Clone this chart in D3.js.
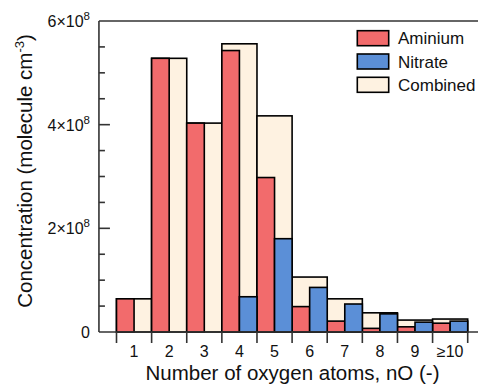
<!DOCTYPE html>
<html>
<head>
<meta charset="utf-8">
<script src="https://cdn.jsdelivr.net/npm/d3@7"></script>
<style>
  body { margin: 0; background: #fff; }
  svg { display: block; font-family: "Liberation Sans", Arial, sans-serif; }
</style>
</head>
<body>
<div id="chart"></div>
<script>
// categories = number of oxygen atoms
const categories = ["1", "2", "3", "4", "5", "6", "7", "8", "9", "\u226510"];
// concentrations in 1e8 molecule cm-3
const aminium  = [0.64, 5.28, 4.03, 5.43, 2.98, 0.49, 0.21, 0.07, 0.10, 0.17];
const nitrate  = [0, 0, 0, 0.68, 1.80, 0.86, 0.54, 0.35, 0.19, 0.21];
const combined = [0.64, 5.28, 4.03, 5.56, 4.17, 1.06, 0.64, 0.37, 0.23, 0.25];
const yTicks = [0, 2, 4, 6];
const legendItems = ["Aminium", "Nitrate", "Combined"];

const colors = { Aminium: "#f26b6c", Nitrate: "#5b8fd7", Combined: "#fef2e1" };

const W = 478, H = 384;
const svg = d3.select("#chart").append("svg").attr("width", W).attr("height", H);

// x: category index (1..10), boundaries at i +/- 0.5
const x = d3.scaleLinear().domain([0.5, 10.5]).range([116.5, 467.7]);
const y = d3.scaleLinear().domain([0, 6]).range([332, 21]);
const left = x(0);
const half = (x(1) - x(0)) / 2;

// bars: combined behind, full width; aminium left half; nitrate right half
const g = svg.append("g").attr("stroke", "#000").attr("stroke-width", 1.6);
g.selectAll(".comb").data(combined).enter().append("rect")
  .attr("x", (d, i) => x(i + 0.5))
  .attr("y", d => y(d))
  .attr("width", 2 * half)
  .attr("height", d => y(0) - y(d))
  .attr("fill", colors.Combined);
g.selectAll(".am").data(aminium).enter().append("rect")
  .attr("x", (d, i) => x(i + 0.5))
  .attr("y", d => y(d))
  .attr("width", half)
  .attr("height", d => y(0) - y(d))
  .attr("fill", colors.Aminium);
g.selectAll(".ni").data(nitrate.map((v, i) => ({ v, i })).filter(d => d.v > 0)).enter().append("rect")
  .attr("x", d => x(d.i + 1))
  .attr("y", d => y(d.v))
  .attr("width", half)
  .attr("height", d => y(0) - y(d.v))
  .attr("fill", colors.Nitrate);

// frame lines
const axisColor = "#333";
const ax = svg.append("g").attr("stroke", axisColor).attr("stroke-width", 1.6).attr("fill", "none");
ax.append("line").attr("x1", left).attr("x2", left).attr("y1", y(6)).attr("y2", y(0));
ax.append("line").attr("x1", left).attr("x2", W).attr("y1", y(6)).attr("y2", y(6));
ax.append("line").attr("x1", left).attr("x2", W).attr("y1", y(0)).attr("y2", y(0));

// y ticks, pointing inward
const minor = d3.range(0.5, 6, 0.5);
ax.selectAll(".yt").data(minor).enter().append("line")
  .attr("x1", left).attr("x2", d => left + (d % 2 === 0 ? 11 : 6))
  .attr("y1", d => y(d)).attr("y2", d => y(d));

// x ticks at category boundaries, pointing down
ax.selectAll(".xt").data(d3.range(0.5, 11, 1)).enter().append("line")
  .attr("x1", d => x(d)).attr("x2", d => x(d))
  .attr("y1", y(0)).attr("y2", y(0) + 11);

// y tick labels
const yl = svg.append("g").attr("font-size", 16).attr("fill", "#111").attr("text-anchor", "end");
yTicks.forEach(t => {
  const txt = yl.append("text").attr("x", 90).attr("y", y(t) + 6);
  if (t === 0) { txt.text("0"); return; }
  txt.append("tspan").text(t + "\u00d710");
  txt.append("tspan").attr("font-size", 11.5).attr("dy", -7).text("8");
});

// x tick labels
svg.append("g").attr("font-size", 16).attr("fill", "#111").attr("text-anchor", "middle")
  .selectAll("text").data(categories).enter().append("text")
  .attr("x", (d, i) => x(i + 1))
  .attr("y", 357)
  .text(d => d);

// axis titles
svg.append("text").attr("x", 292.5).attr("y", 380).attr("text-anchor", "middle")
  .attr("font-size", 20.5).attr("fill", "#111")
  .text("Number of oxygen atoms, nO (-)");

const yt = svg.append("text").attr("transform", "translate(31.5,171) rotate(-90)")
  .attr("text-anchor", "middle").attr("font-size", 20.5).attr("fill", "#111");
yt.append("tspan").text("Concentration (molecule cm");
yt.append("tspan").attr("font-size", 13).attr("dy", -8).text("-3");
yt.append("tspan").attr("dy", 8).text(")");

// legend
const lg = svg.append("g");
legendItems.forEach((name, i) => {
  const top = 30.7 + i * 23.3;
  lg.append("rect").attr("x", 357.3).attr("y", top).attr("width", 31.4).attr("height", 15)
    .attr("fill", colors[name]).attr("stroke", "#000").attr("stroke-width", 1.6);
  lg.append("text").attr("x", 398).attr("y", top + 13.6).attr("font-size", 17).attr("fill", "#111").text(name);
});
</script>
</body>
</html>
